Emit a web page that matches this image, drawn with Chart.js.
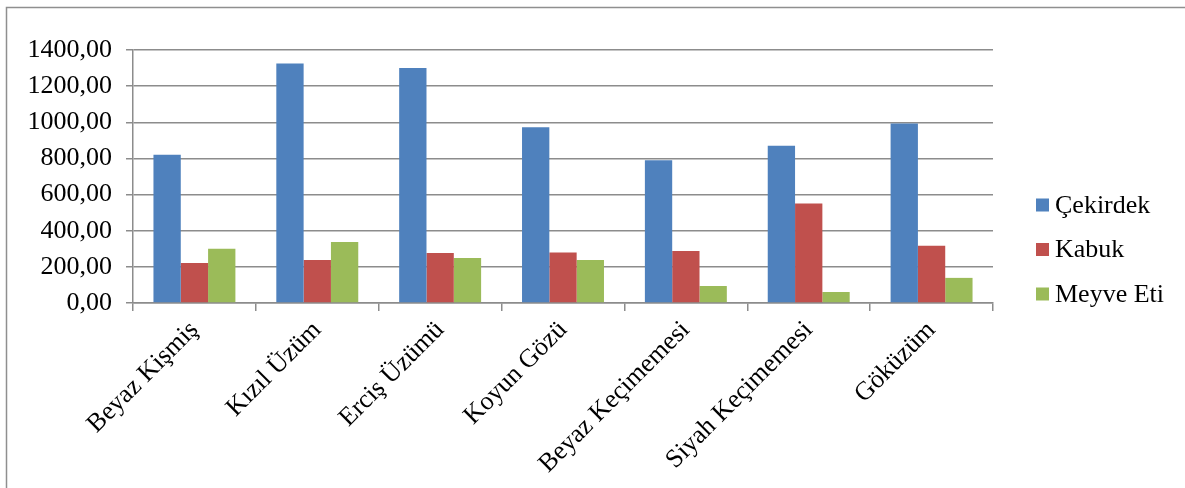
<!DOCTYPE html>
<html>
<head>
<meta charset="utf-8">
<script src="https://cdn.jsdelivr.net/npm/chart.js@4/dist/chart.umd.min.js"></script>
<style>
  html, body { margin: 0; padding: 0; background: #fff; }
  #chart { display: block; }
</style>
</head>
<body>
<canvas id="chart" width="1185" height="488"></canvas>
<script>
const categories = ["Beyaz Kişmiş", "Kızıl Üzüm", "Erciş Üzümü", "Koyun Gözü", "Beyaz Keçimemesi", "Siyah Keçimemesi", "Göküzüm"];
const cekirdek = [820, 1325, 1300, 972, 790, 870, 993];
const kabuk = [221, 238, 277, 280, 288, 550, 317];
const meyveEti = [300, 338, 249, 238, 94, 61, 139];
const seriesNames = ["Çekirdek", "Kabuk", "Meyve Eti"];
const seriesColors = ["#4F81BD", "#C0504D", "#9BBB59"];

const serif = "'Liberation Serif', 'Times New Roman', serif";
const gridGray = "#8c8c8c";

// frame around the whole chart (top and left edges visible)
const framePlugin = {
    id: "frame",
    beforeDraw(chart) {
        const ctx = chart.ctx;
        ctx.save();
        ctx.fillStyle = "#fff";
        ctx.fillRect(0, 0, chart.width, chart.height);
        ctx.strokeStyle = "#8f8f8f";
        ctx.lineWidth = 1.5;
        ctx.beginPath();
        ctx.moveTo(6.5, chart.height);
        ctx.lineTo(6.5, 7.5);
        ctx.lineTo(chart.width, 7.5);
        ctx.stroke();
        ctx.restore();
    }
};

// legend on the right, squares + text
const legendPlugin = {
    id: "sideLegend",
    afterDraw(chart) {
        const ctx = chart.ctx;
        ctx.save();
        ctx.font = "26px " + serif;
        ctx.textBaseline = "middle";
        ctx.textAlign = "left";
        chart.data.datasets.forEach((ds, i) => {
            const cy = 205 + i * 44.5;
            ctx.fillStyle = ds.backgroundColor;
            ctx.fillRect(1036, cy - 6.5, 13, 13);
            ctx.fillStyle = "#000";
            ctx.fillText(ds.label, 1055, cy + 1);
        });
        ctx.restore();
    }
};

const datasets = [cekirdek, kabuk, meyveEti].map((vals, i) => ({
    label: seriesNames[i],
    data: vals,
    backgroundColor: seriesColors[i],
    borderWidth: 0,
    categoryPercentage: 0.667,
    barPercentage: 1.0
}));

new Chart(document.getElementById("chart"), {
    type: "bar",
    data: { labels: categories, datasets: datasets },
    plugins: [framePlugin, legendPlugin],
    options: {
        responsive: false,
        animation: false,
        layout: { padding: { left: 0, top: 50, right: 192, bottom: 0 } },
        plugins: {
            legend: { display: false },
            tooltip: { enabled: false }
        },
        scales: {
            x: {
                grid: {
                    offset: true,
                    drawOnChartArea: false,
                    drawTicks: true,
                    tickLength: 8,
                    color: gridGray,
                    lineWidth: 1.5
                },
                border: { color: gridGray, width: 1.5 },
                ticks: {
                    color: "#000",
                    font: { family: serif, size: 26 },
                    minRotation: 45,
                    maxRotation: 45,
                    padding: 4,
                    autoSkip: false
                },
                afterFit(scale) { scale.height = 185; }
            },
            y: {
                min: 0,
                max: 1400,
                ticks: {
                    stepSize: 200,
                    color: "#000",
                    font: { family: serif, size: 26 },
                    padding: 14,
                    callback: (v) => v.toFixed(2).replace(".", ",")
                },
                grid: {
                    color: gridGray,
                    lineWidth: 1.5,
                    tickLength: 7
                },
                border: { color: gridGray, width: 1.5 },
                afterFit(scale) { scale.width = 133; }
            }
        }
    }
});
</script>
</body>
</html>
